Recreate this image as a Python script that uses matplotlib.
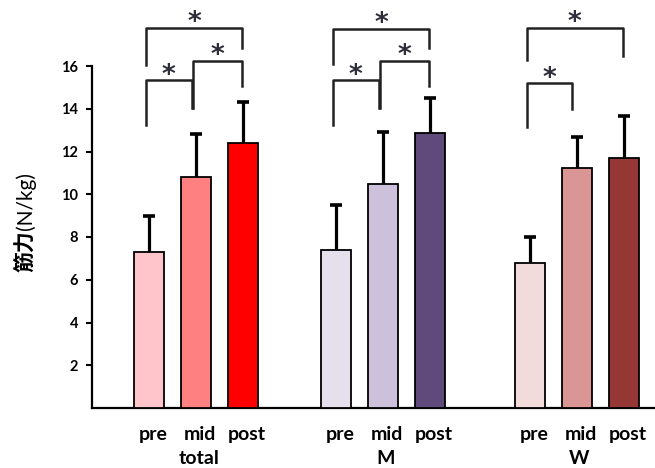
import matplotlib.pyplot as plt

plt.rcParams['font.family'] = ['Lato', 'Noto Sans CJK JP', 'DejaVu Sans']

groups = ['total', 'M', 'W']
phases = ['pre', 'mid', 'post']

means_total = [7.3, 10.8, 12.4]
means_m = [7.4, 10.5, 12.85]
means_w = [6.8, 11.25, 11.7]

sd_total = [1.7, 2.0, 1.9]
sd_m = [2.1, 2.4, 1.65]
sd_w = [1.2, 1.45, 1.95]

colors_total = ['#FFC5CB', '#FF8080', '#FF0000']
colors_m = ['#E6E0EC', '#CCC0DA', '#604A7B']
colors_w = ['#F2DCDB', '#D99694', '#953735']

# significance brackets: (group, left bar, right bar, top, left leg end, right leg end)
brackets = [
    (0, 0, 1, 15.35, 13.25, 14.05),
    (0, 0, 2, 17.8, 16.05, 16.85),
    (0, 1, 2, 16.25, 14.05, 15.05),
    (1, 0, 1, 15.35, 13.25, 14.05),
    (1, 0, 2, 17.75, 16.1, 16.85),
    (1, 1, 2, 16.25, 14.05, 15.05),
    (2, 0, 1, 15.2, 13.15, 14.0),
    (2, 0, 2, 17.8, 16.3, 16.45),
]

group_offsets = [0.0, 3.98, 8.1]
width = 0.64

fig = plt.figure(figsize=(6.55, 4.68), dpi=100)
ax = fig.add_axes([92 / 655, 60 / 468, 1 - 92 / 655, 342 / 468])

all_means = [means_total, means_m, means_w]
all_sd = [sd_total, sd_m, sd_w]
all_colors = [colors_total, colors_m, colors_w]

for g, off in enumerate(group_offsets):
    xs = [off + i for i in range(3)]
    ax.bar(xs, all_means[g], width=width, color=all_colors[g],
           edgecolor='black', linewidth=1.3, zorder=3)
    eb = ax.errorbar(xs, all_means[g], yerr=[[0, 0, 0], all_sd[g]],
                     fmt='none', ecolor='black', elinewidth=2.3, capsize=4.5,
                     capthick=2.6, zorder=2)
    # upper error only: hide the cap sitting on the bar top
    eb[1][0].set_visible(False)
    for i, x in enumerate(xs):
        ax.text(x + 0.08, -1.25, phases[i], ha='center', va='center',
                fontsize=14, fontweight='bold')
    ax.text(off + 1.05, -2.35, groups[g], ha='center', va='center',
            fontsize=14, fontweight='bold')

for g, i, j, top, yl, yr in brackets:
    off = group_offsets[g]
    xl = off + i - 0.07
    xr = off + j - (0.1 if j - i == 1 and i == 0 else 0.03)
    ax.plot([xl, xl, xr, xr], [yl, top, top, yr], color='#222222',
            linewidth=1.8, clip_on=False)
    ax.text((xl + xr) / 2, top + 0.2, '*', ha='center', va='center',
            fontsize=19, fontweight='bold', color='#2E2E3A',
            family='DejaVu Sans', clip_on=False)

ax.set_ylim(0, 16)
ax.set_xlim(-1.22, 10.76)
ax.set_yticks(range(2, 17, 2))
ax.set_xticks([])
ax.tick_params(axis='y', length=4, width=1.5, labelsize=10.5, pad=6)
for lbl in ax.get_yticklabels():
    lbl.set_fontweight('bold')

for side in ['top', 'right']:
    ax.spines[side].set_visible(False)
ax.spines['left'].set_linewidth(1.6)
ax.spines['bottom'].set_linewidth(1.6)

# y label: bold kanji followed by the unit in regular weight
ylab = fig.text(0.039, 1 - 251 / 468, '筋力', rotation=90, ha='center',
                va='center', fontsize=15, fontweight='bold',
                family=['Noto Sans CJK JP'])
ax.annotate('(N/kg)', xy=(0.5, 1.0), xycoords=ylab, ha='center',
            va='bottom', rotation=90, fontsize=15, annotation_clip=False)

fig.savefig('out.png', dpi=100)
